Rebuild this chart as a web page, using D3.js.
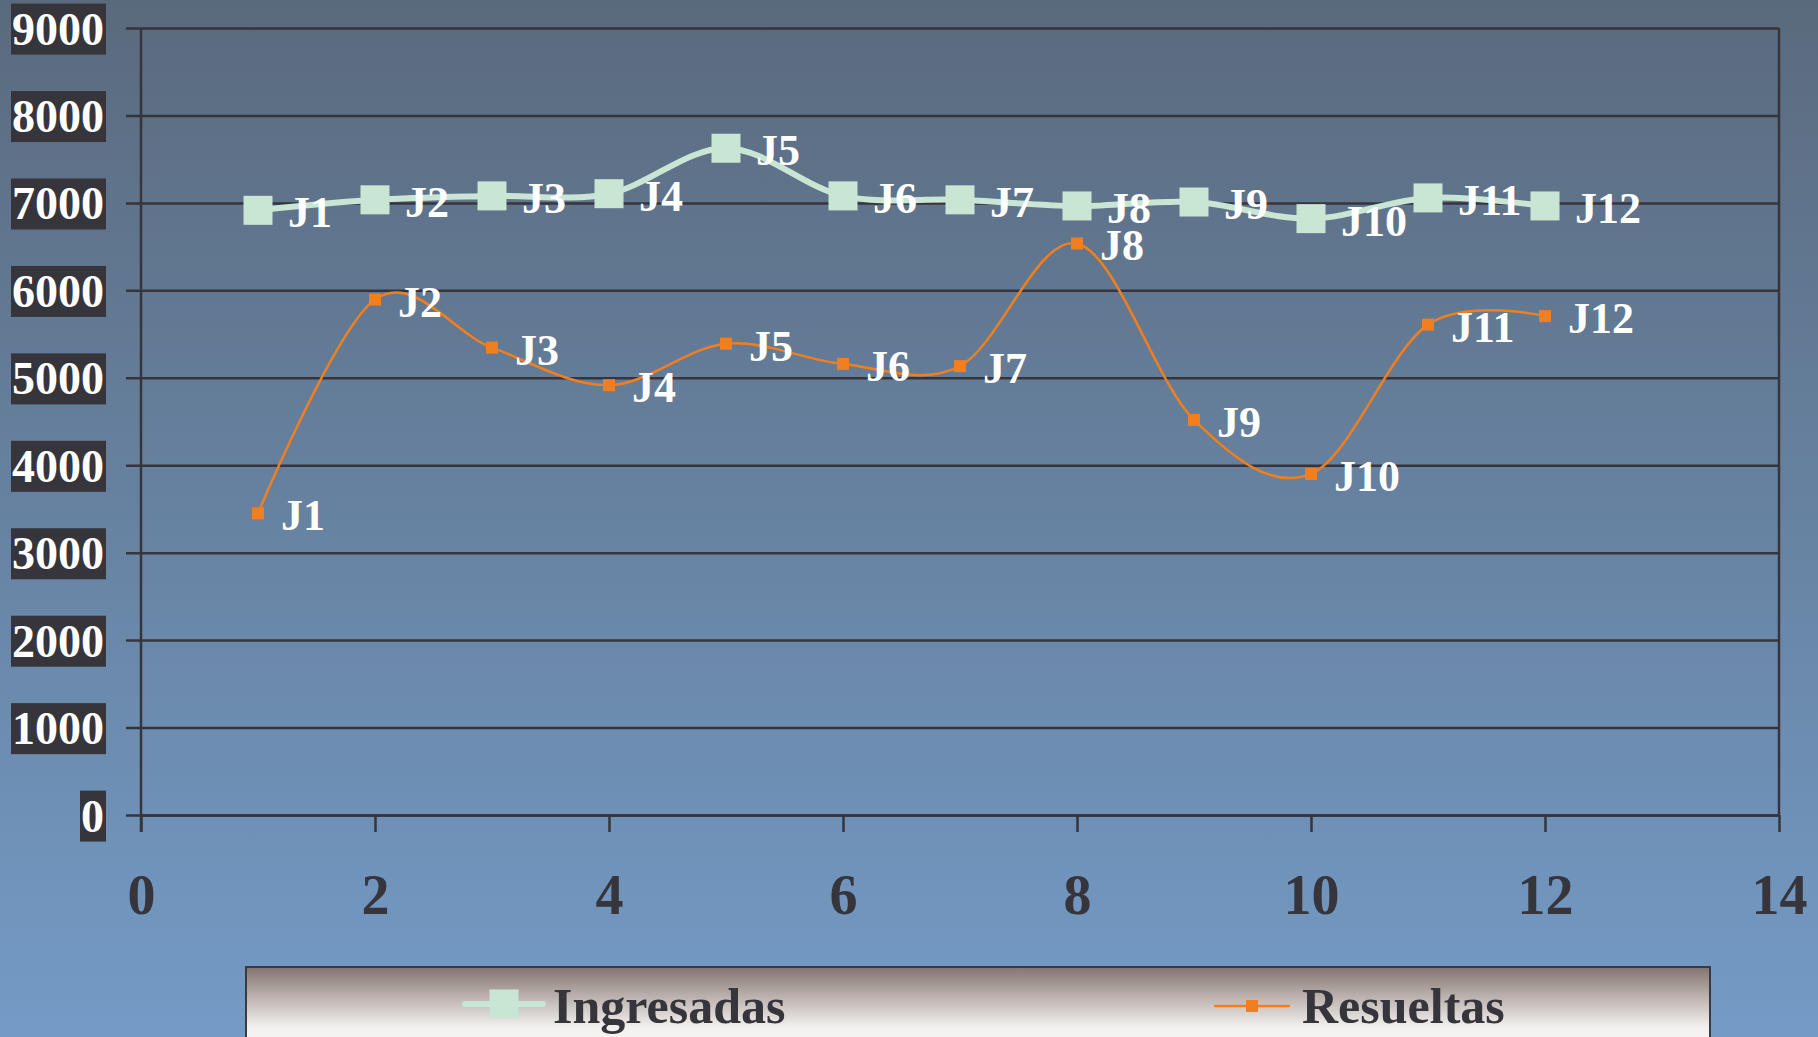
<!DOCTYPE html>
<html>
<head>
<meta charset="utf-8">
<script src="https://cdn.jsdelivr.net/npm/d3@7"></script>
<style>
  html, body { margin: 0; padding: 0; overflow: hidden; }
  svg { display: block; }
  text { font-family: "Liberation Serif", "Times New Roman", serif; font-weight: bold; }
</style>
</head>
<body>
<div id="chart"></div>
<script>
// data
const points = [1, 2, 3, 4, 5, 6, 7, 8, 9, 10, 11, 12];
const pointLabels = ["J1", "J2", "J3", "J4", "J5", "J6", "J7", "J8", "J9", "J10", "J11", "J12"];
const ingresadas = [6915, 7035, 7080, 7105, 7625, 7080, 7035, 6965, 7010, 6820, 7057, 6965];
const resueltas = [3450, 5895, 5345, 4915, 5390, 5158, 5133, 6536, 4518, 3900, 5608, 5705];
const seriesNames = ["Ingresadas", "Resueltas"];
const xTicks = [0, 2, 4, 6, 8, 10, 12, 14];
const yTicks = [0, 1000, 2000, 3000, 4000, 5000, 6000, 7000, 8000, 9000];

const W = 1818, H = 1037;
const dark = "#36353b";
const green = "#c9e6d4";
const orange = "#f27f1f";

const svg = d3.select("#chart").append("svg")
    .attr("width", W)
    .attr("height", H);

const defs = svg.append("defs");
const bg = defs.append("linearGradient").attr("id", "bg")
    .attr("x1", 0).attr("y1", 0).attr("x2", 0).attr("y2", 1);
bg.append("stop").attr("offset", "0%").attr("stop-color", "#5a6a7d");
bg.append("stop").attr("offset", "100%").attr("stop-color", "#749bc6");

const lg = defs.append("linearGradient").attr("id", "lg")
    .attr("x1", 0).attr("y1", 0).attr("x2", 0).attr("y2", 1);
lg.append("stop").attr("offset", "0%").attr("stop-color", "#85746f");
lg.append("stop").attr("offset", "55%").attr("stop-color", "#f3f1ef");
lg.append("stop").attr("offset", "100%").attr("stop-color", "#ffffff");

svg.append("rect").attr("width", W).attr("height", H).attr("fill", "url(#bg)");

const plotLeft = 141, plotRight = 1779, plotTop = 28, plotBottom = 815;

const x = d3.scaleLinear().domain([0, 14]).range([plotLeft, plotRight]);
const y = d3.scaleLinear().domain([0, 9000]).range([plotBottom, plotTop]);

// gridlines + y tick labels
const yAxis = svg.append("g")
    .attr("transform", "translate(126,0)")
    .call(d3.axisLeft(y).tickValues(yTicks).tickFormat(d3.format("d"))
        .tickSize(-(plotRight - 126)).tickPadding(22));
yAxis.select(".domain").remove();
yAxis.selectAll(".tick line").attr("stroke", dark).attr("stroke-width", 2.5);
yAxis.selectAll(".tick text")
    .attr("fill", "#ffffff")
    .attr("font-size", 46)
    .attr("dy", "0.35em")
    .each(function() {
        const b = this.getBBox();
        d3.select(this.parentNode).insert("rect", "text")
            .attr("x", b.x - 1)
            .attr("y", b.y)
            .attr("width", b.width + 3)
            .attr("height", b.height)
            .attr("fill", dark);
    });

// x axis
const xAxis = svg.append("g")
    .attr("transform", `translate(0,${plotBottom})`)
    .call(d3.axisBottom(x).tickValues(xTicks).tickSize(17).tickSizeOuter(0).tickPadding(42));
xAxis.select(".domain").attr("stroke", dark).attr("stroke-width", 2.5);
xAxis.selectAll(".tick line").attr("stroke", dark).attr("stroke-width", 2.5);
xAxis.selectAll(".tick text").attr("fill", dark).attr("font-size", 56);

// plot frame: y axis line and right border
svg.append("line").attr("x1", plotLeft).attr("x2", plotLeft).attr("y1", plotTop).attr("y2", plotBottom + 17)
    .attr("stroke", dark).attr("stroke-width", 2.5);
svg.append("line").attr("x1", plotRight).attr("x2", plotRight).attr("y1", plotTop).attr("y2", plotBottom)
    .attr("stroke", dark).attr("stroke-width", 2.5);

const line = d3.line()
    .x(d => x(d[0]))
    .y(d => y(d[1]))
    .curve(d3.curveCatmullRom.alpha(0));

function drawSeries(values, color, width, size, labelGap) {
    const data = points.map((p, i) => [p, values[i], pointLabels[i]]);
    const g = svg.append("g");
    g.append("path")
        .datum(data)
        .attr("d", line)
        .attr("fill", "none")
        .attr("stroke", color)
        .attr("stroke-width", width);
    g.selectAll("rect")
        .data(data)
        .enter()
        .append("rect")
        .attr("x", d => x(d[0]) - size / 2)
        .attr("y", d => y(d[1]) - size / 2)
        .attr("width", size)
        .attr("height", size)
        .attr("fill", color);
    g.selectAll("text")
        .data(data)
        .enter()
        .append("text")
        .attr("x", d => x(d[0]) + labelGap)
        .attr("y", d => y(d[1]) + 17)
        .attr("font-size", 44)
        .attr("fill", "#ffffff")
        .text(d => d[2]);
}

drawSeries(ingresadas, green, 6, 29, 30);
drawSeries(resueltas, orange, 2.5, 12, 23);

// legend
const legend = svg.append("g");
legend.append("rect")
    .attr("x", 246).attr("y", 967)
    .attr("width", 1464).attr("height", 110)
    .attr("fill", "url(#lg)")
    .attr("stroke", "#3b3a40")
    .attr("stroke-width", 2);

const legendItems = [
    { name: seriesNames[0], color: green, width: 6, size: 29, x1: 465, x2: 543, cy: 1004, tx: 553 },
    { name: seriesNames[1], color: orange, width: 2.5, size: 12, x1: 1215, x2: 1289, cy: 1006, tx: 1302 }
];
legendItems.forEach(it => {
    legend.append("line")
        .attr("x1", it.x1).attr("x2", it.x2)
        .attr("y1", it.cy).attr("y2", it.cy)
        .attr("stroke", it.color)
        .attr("stroke-width", it.width)
        .attr("stroke-linecap", "round");
    legend.append("rect")
        .attr("x", (it.x1 + it.x2) / 2 - it.size / 2)
        .attr("y", it.cy - it.size / 2)
        .attr("width", it.size).attr("height", it.size)
        .attr("fill", it.color);
    legend.append("text")
        .attr("x", it.tx).attr("y", 1023)
        .attr("font-size", 50)
        .attr("fill", dark)
        .text(it.name);
});
</script>
</body>
</html>
